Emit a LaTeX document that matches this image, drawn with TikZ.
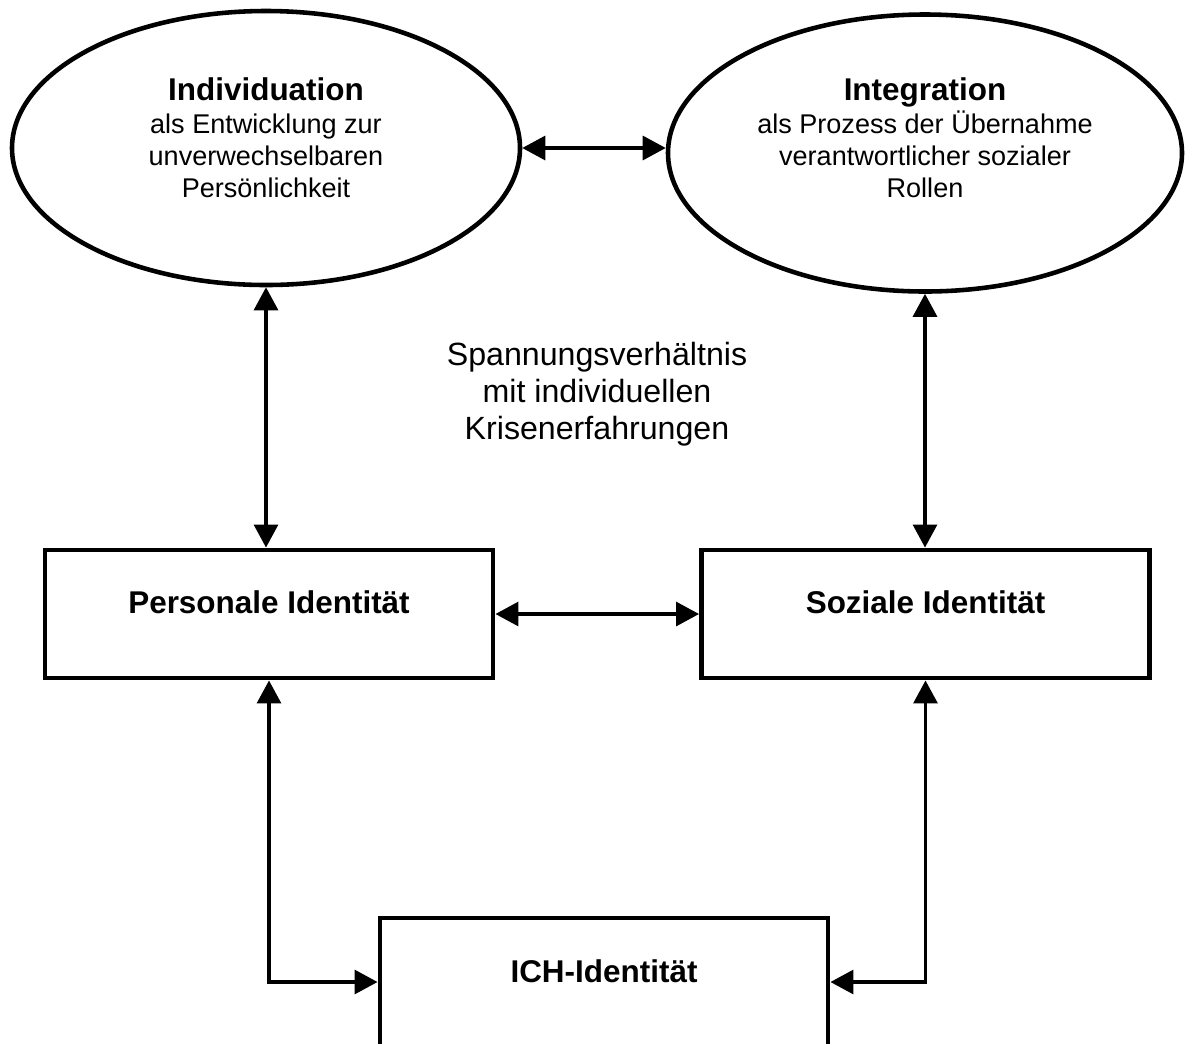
\documentclass[tikz,border=0pt]{standalone}
\usepackage{fontspec}
\setmainfont{Liberation Sans}
\usetikzlibrary{shapes}
\usetikzlibrary{arrows.meta}

\begin{document}
\begin{tikzpicture}[ellipsenode/.style={ellipse,draw,line width=2.6pt,inner sep=0pt},
	boxnode/.style={rectangle,draw,line width=2.8pt,minimum width=8.96cm,minimum height=2.56cm},
	ellipsetext/.style={align=center,font=\fontsize{15.4}{18.4}\selectfont},
	boxtext/.style={font=\fontsize{17.9}{21}\selectfont\bfseries},
	midtext/.style={align=center,font=\fontsize{18.3}{20.9}\selectfont},
	dblarrow/.style={{Triangle[length=0.46cm,width=0.48cm]}-{Triangle[length=0.46cm,width=0.48cm]},line width=1.8pt}
	]
	\useasboundingbox (0,0) rectangle (23.7,-20.86);
	\clip (0,0) rectangle (23.7,-20.86);
	% ellipses
	\node[ellipsenode,minimum width=10.16cm,minimum height=5.48cm](indiv) at (5.32,-2.96){};
	\node[ellipsenode,minimum width=10.28cm,minimum height=5.54cm](integ) at (18.5,-3.06){};
	\node[ellipsetext](indivtext) at ([yshift=0.2cm]indiv.center){{\fontsize{17.9}{18.4}\selectfont\bfseries Individuation}\\als Entwicklung zur\\unverwechselbaren\\Persönlichkeit};
	\node[ellipsetext](integtext) at ([yshift=0.3cm]integ.center){{\fontsize{17.9}{18.4}\selectfont\bfseries Integration}\\als Prozess der Übernahme\\verantwortlicher sozialer\\Rollen};
	% boxes
	\node[boxnode](pers) at (5.38,-12.28){};
	\node[boxnode](soz) at (18.51,-12.28){};
	\node[boxnode](ich) at (12.08,-19.64){};
	\node[boxtext](perstext) at ([yshift=0.24cm]pers.center){Personale Identität};
	\node[boxtext](soztext) at ([yshift=0.24cm]soz.center){Soziale Identität};
	\node[boxtext](ichtext) at ([yshift=0.22cm]ich.center){ICH-Identität};
	\node[midtext](spann) at (11.94,-7.88){Spannungsverhältnis\\mit individuellen\\Krisenerfahrungen};
	% arrows
	\draw[dblarrow] (indiv.east) -- (indiv.east -| integ.west);
	\draw[dblarrow] (indiv.south) -- (indiv.south |- pers.north);
	\draw[dblarrow] (integ.south) -- (integ.south |- soz.north);
	\draw[dblarrow] (pers.east) -- (soz.west);
	\draw[dblarrow] (pers.south) |- (ich.west);
	\draw[dblarrow] (soz.south) |- (ich.east);
\end{tikzpicture}
\end{document}
